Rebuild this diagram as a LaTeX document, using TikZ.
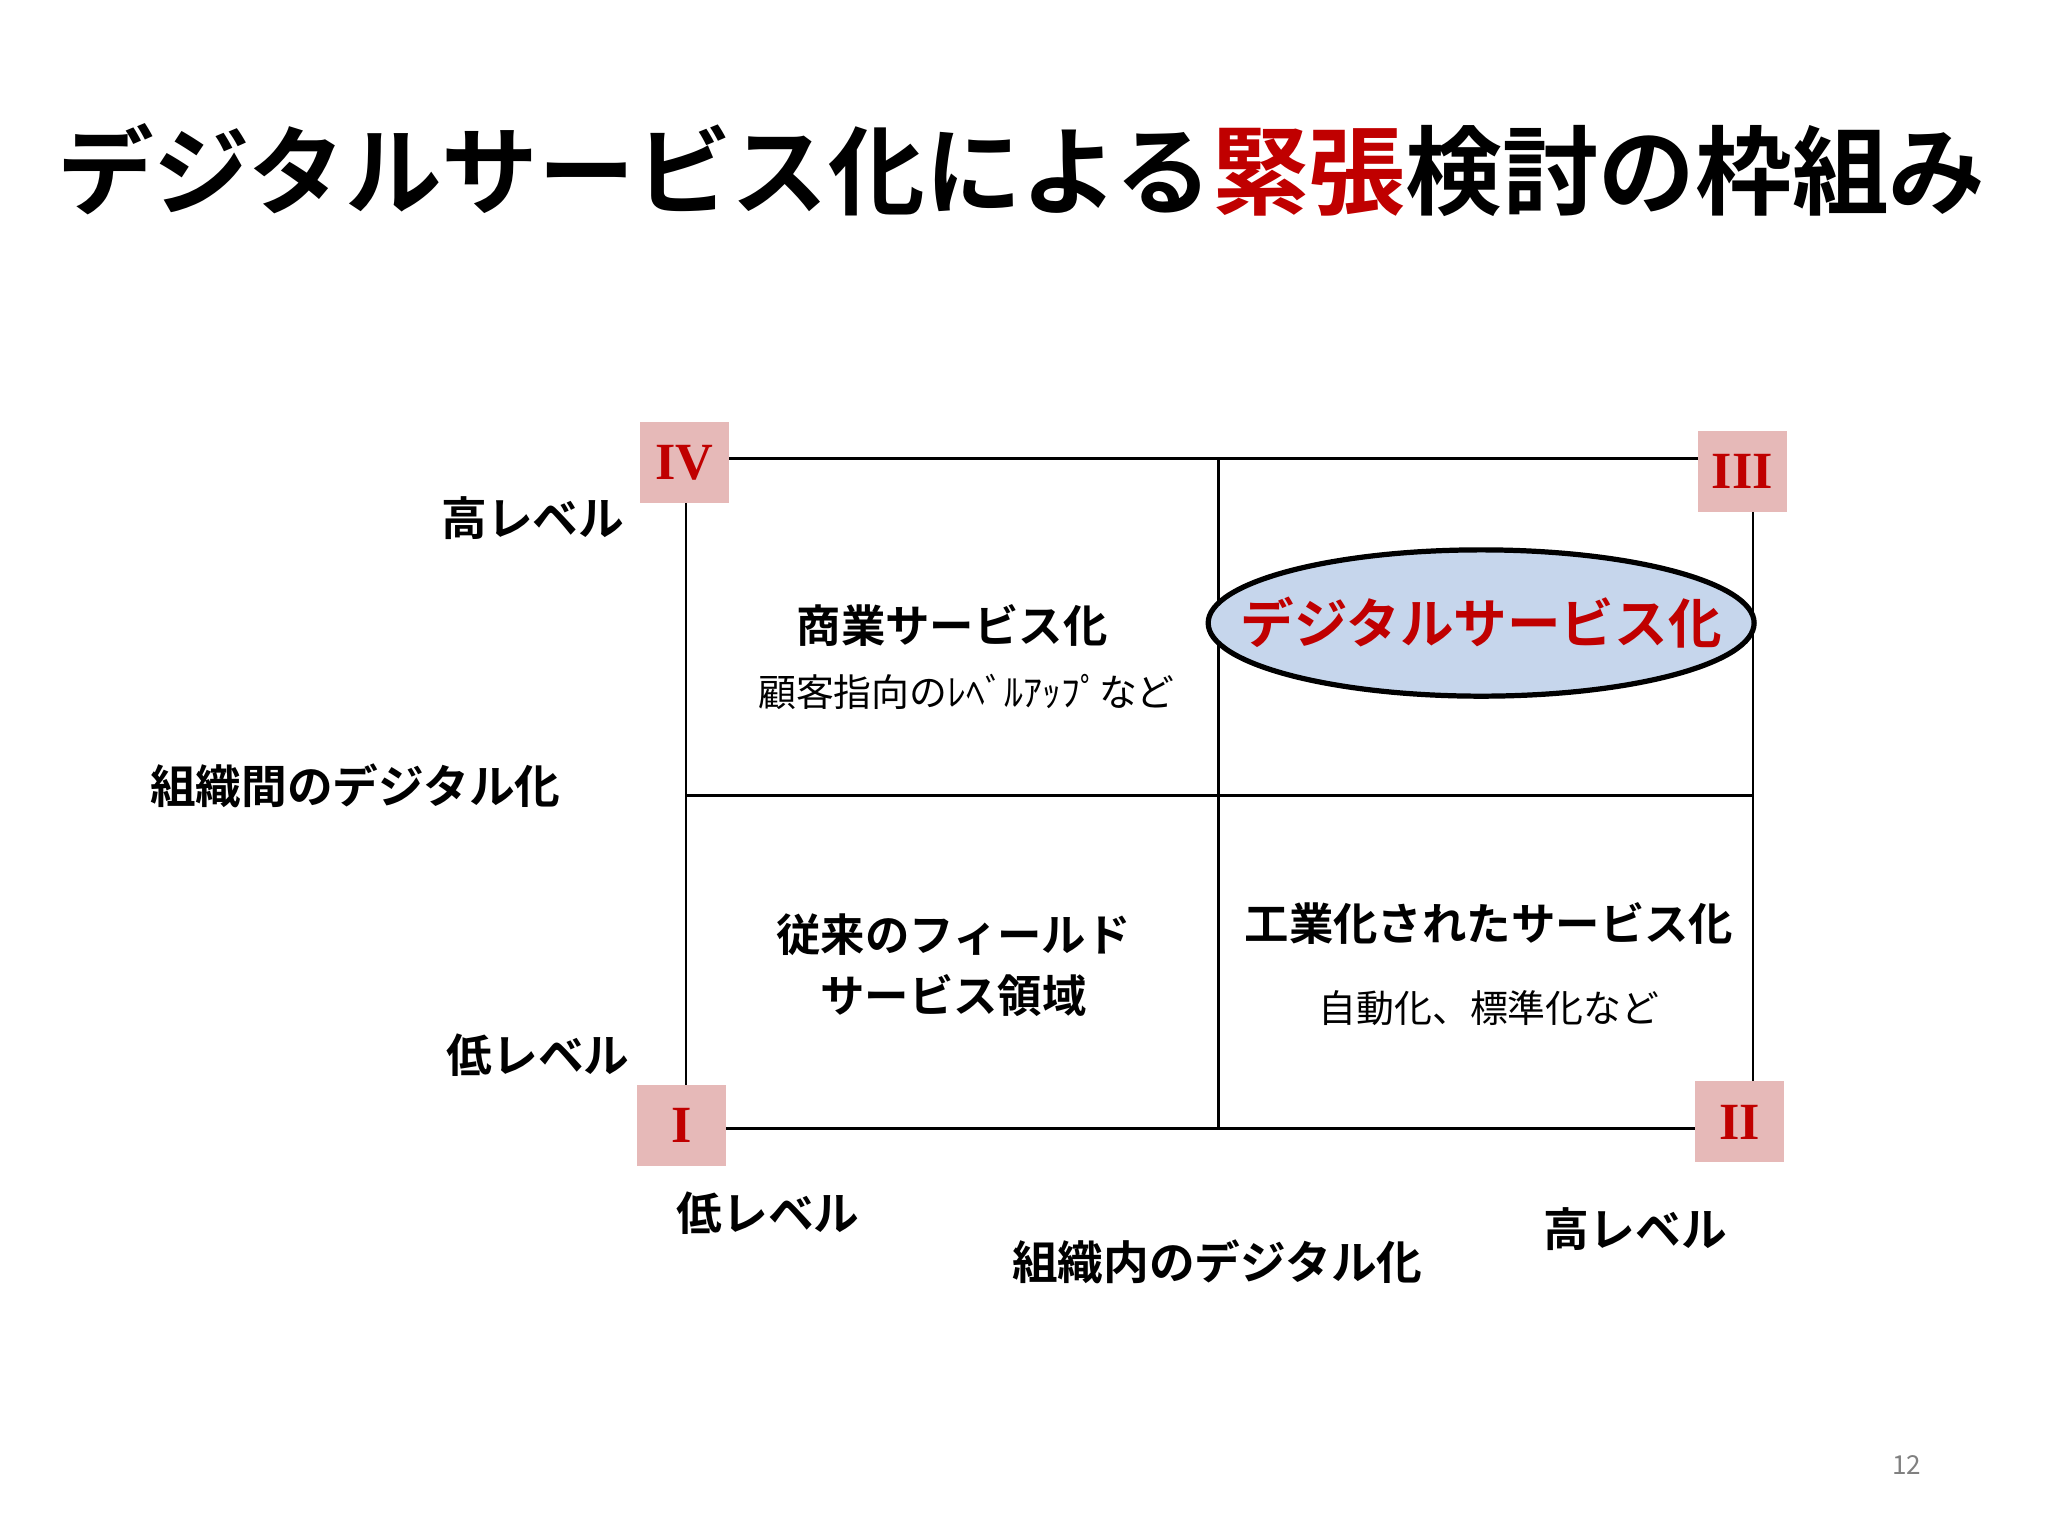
\documentclass[tikz,border=0pt]{standalone}
\usepackage{fontspec}
\usetikzlibrary{shapes.geometric}
\newfontfamily\jb{Noto Sans CJK JP Bold}
\newfontfamily\jr{Noto Sans CJK JP}
\newfontfamily\rom{Liberation Serif}
\definecolor{dred}{HTML}{C00000}
\definecolor{pinkbox}{HTML}{E6B9B8}
\definecolor{lblue}{HTML}{C6D6EC}
\tikzset{
  qbox/.style={fill=pinkbox,minimum width=34pt,minimum height=31pt,inner sep=0pt,font=\rom\bfseries\fontsize{20}{20}\selectfont,text=dred},
  axl/.style={font=\jb\fontsize{17.5}{17.5}\selectfont,inner sep=0pt},
  cellb/.style={font=\jb\fontsize{17}{17}\selectfont,inner sep=0pt,align=center},
  cellr/.style={font=\jr\fontsize{14.5}{14.5}\selectfont,inner sep=0pt},
  grid/.style={line width=0.9pt}
}
\begin{document}
\begin{tikzpicture}[x=0.5pt,y=-0.5pt]
\useasboundingbox (0,0) rectangle (1568,1176);
\node[font=\jb\fontsize{37}{37}\selectfont,inner sep=0pt] (title) at (782,130) {デジタルサービス化による{\color{dred}緊張}検討の枠組み};
\coordinate (tl) at (525,351); \coordinate (tm) at (933,351); \coordinate (tr) at (1342,351);
\coordinate (ml) at (525,609); \coordinate (mr) at (1342,609);
\coordinate (bl) at (525,864); \coordinate (bm) at (933,864); \coordinate (br) at (1342,864);
\draw[grid] (tl) rectangle (br);
\draw[grid] (ml) -- (mr);
\draw[grid] (tm) -- (bm);
\node[qbox] (q4) at (524,354) {IV};
\node[qbox] (q3) at (1334,361) {III};
\node[qbox] (q1) at (522,862) {I};
\node[qbox] (q2) at (1332,859) {II};
\node[ellipse,draw,line width=2pt,fill=lblue,minimum width=209pt,minimum height=56pt,inner sep=0pt] (ds) at (1134,477) {};
\node[font=\jb\fontsize{20.5}{20.5}\selectfont,text=dred,inner sep=0pt] (dst) at (ds.center) {デジタルサービス化};
\node[axl] (yh) at (408,397) {高レベル};
\node[axl] (ym) at (272,602) {組織間のデジタル化};
\node[axl] (yl) at (412,808) {低レベル};
\node[axl] (xl) at (588,929) {低レベル};
\node[axl] (xm) at (932,966) {組織内のデジタル化};
\node[axl] (xh) at (1252,941) {高レベル};
\node[cellb] (c4) at (729,479) {商業サービス化};
\node[cellr] (c4s) at (740,530) {顧客指向のﾚﾍﾞﾙｱｯﾌﾟなど};
\node[cellb] (c1a) at (730,716) {従来のフィールド};
\node[cellb] (c1b) at (730,762) {サービス領域};
\node[cellb] (c2) at (1140,707) {工業化されたサービス化};
\node[cellr] (c2s) at (1140,772) {自動化、標準化など};
\node[font=\jr\fontsize{10}{10}\selectfont,text=gray,inner sep=0pt] (pg) at (1460,1122) {12};
\end{tikzpicture}
\end{document}
